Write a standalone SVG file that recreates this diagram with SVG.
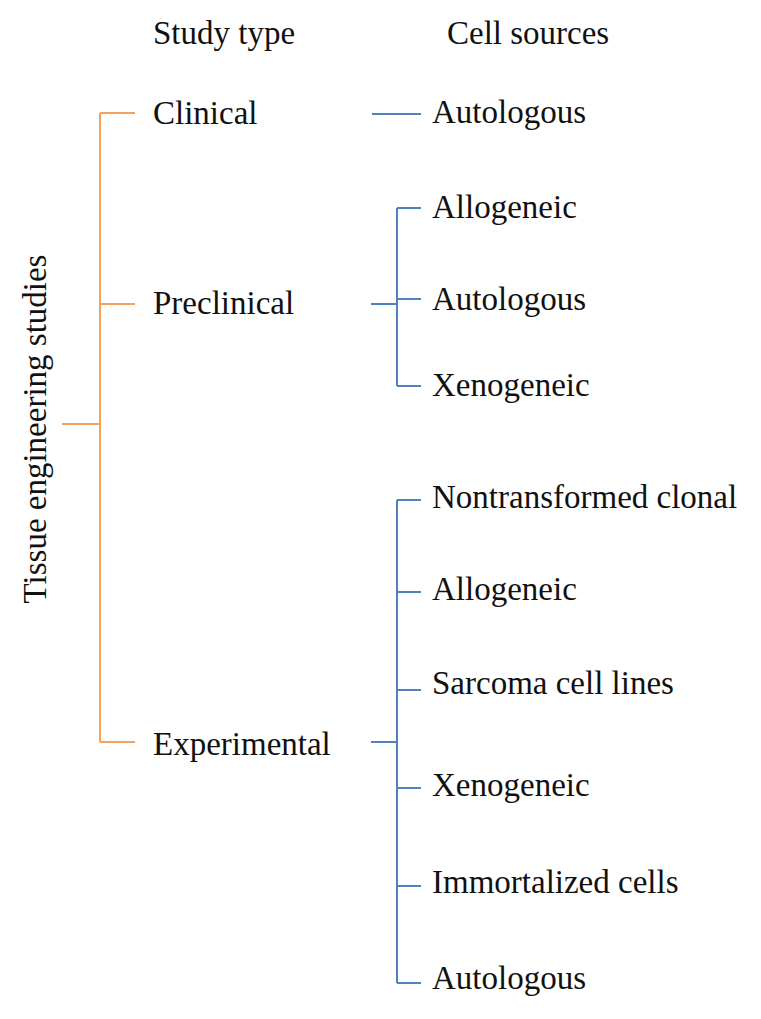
<svg xmlns="http://www.w3.org/2000/svg" width="761" height="1019" viewBox="0 0 761 1019">
<style>
text{font-family:"Liberation Serif","Times New Roman",serif;font-size:33px;fill:#111}
.o{stroke:#F4A15D;stroke-width:2;fill:none}
.b{stroke:#4F81BD;stroke-width:2;fill:none}
</style>
<rect width="761" height="1019" fill="#fff"/>
<g id="connectors">
<path class="o" d="M62 424H100M100 113V742M100 113H135M100 304H135M100 742H135"/>
<path class="b" d="M372 114H421"/>
<path class="b" d="M371 304H397M397 208V386M397 208H421M397 299H421M397 386H421"/>
<path class="b" d="M371 742H397M397 500V983M397 500H421M397 592H421M397 690H421M397 788H421M397 886H421M397 983H421"/>
</g>
<g id="headers">
<text x="153" y="44">Study type</text>
<text x="447" y="44">Cell sources</text>
</g>
<g id="root"><text transform="translate(46,429) rotate(-90)" text-anchor="middle">Tissue engineering studies</text></g>
<g id="clinical"><text x="153" y="124">Clinical</text></g>
<g id="preclinical"><text x="153" y="314">Preclinical</text></g>
<g id="experimental"><text x="153" y="755">Experimental</text></g>
<g id="c-autologous"><text x="432" y="123">Autologous</text></g>
<g id="p-allogeneic"><text x="432" y="218">Allogeneic</text></g>
<g id="p-autologous"><text x="432" y="310">Autologous</text></g>
<g id="p-xenogeneic"><text x="432" y="396">Xenogeneic</text></g>
<g id="e-nontransformed"><text x="432" y="508">Nontransformed clonal</text></g>
<g id="e-allogeneic"><text x="432" y="600">Allogeneic</text></g>
<g id="e-sarcoma"><text x="432" y="694">Sarcoma cell lines</text></g>
<g id="e-xenogeneic"><text x="432" y="796">Xenogeneic</text></g>
<g id="e-immortalized"><text x="432" y="893">Immortalized cells</text></g>
<g id="e-autologous"><text x="432" y="989">Autologous</text></g>
</svg>
